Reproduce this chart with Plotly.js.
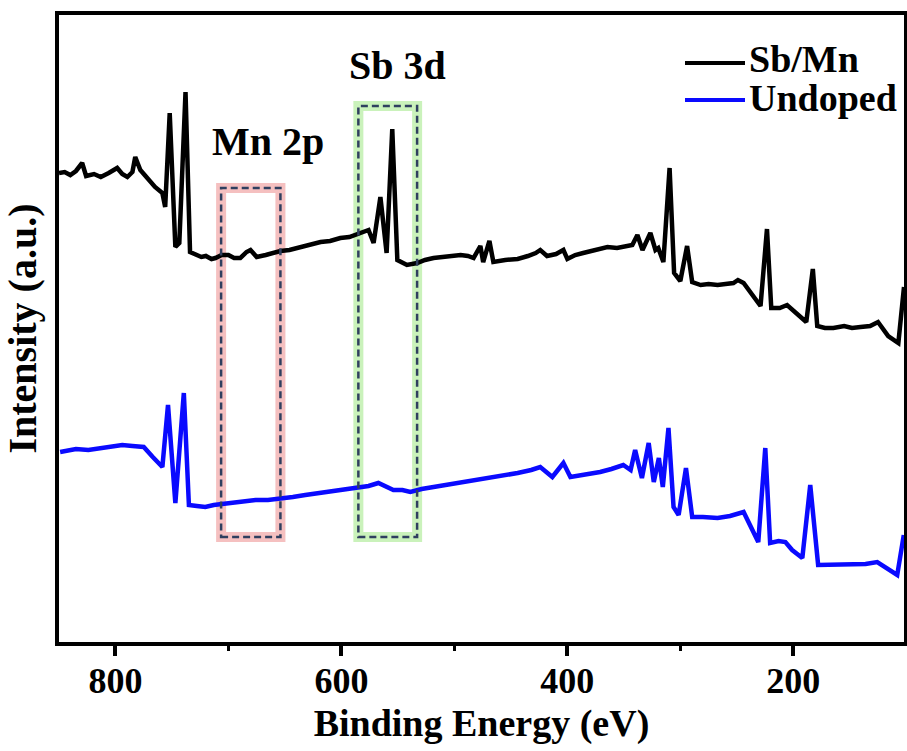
<!DOCTYPE html>
<html>
<head>
<meta charset="utf-8">
<script src="https://cdn.plot.ly/plotly-3.0.1.min.js"></script>
<style>html,body{margin:0;padding:0;background:#fff;}#chart{width:907px;height:751px;}</style>
</head>
<body>
<div id="chart"></div>
<script>
// Binding energy (eV) and intensity (a.u.)
const sbmnEnergy = [850,845,840,835,829.5,826,819,813,806,798.5,794,789.5,785,782.5,778,771,765,758.5,756,752,747,743.5,738,734,729,724,720,715,711.5,706,700,695,689.5,684,680.5,675,667,661,654,646,636,627,618.5,610,601,593,586,576,571.5,565.5,560,555,550.5,542,533,526,518.5,510,502,494.5,488,483,477,474.5,469,465.5,455,444,435,428,424,418,410,403.5,400,393,386,375,364.5,356,349,342.5,338,333.5,326.5,322,319.5,315,309.5,305.5,300,294,289.5,282,275,267,260,253,249,244,229,223.3,219.5,212,205.5,194,188.5,182.7,178.8,172,164.5,155,148,140.5,132,125,116,107,102];
const sbmnIntensity = [469,470,467,471,479,466,468,465,469,474,468,465,470,485,472,462,455,449,435,529,395,399,550,390,387,385,386,383,384,387,387,384,384,390,392,385,387,389,391,392,395,398,400,401,404,405,408,412,399,445,389,513,382,377,379,382,384,385,386,387,386,384,396,380,401,380,382,383,386,389,392,386,388,392,383,387,389,392,395,394,396,397,407,392,409,392,394,380,474,369,361,396,360,357,358,357,358,359,362,359,336,413,334,334,337,325,320,373,316,314,314,316,314,315,316,320,306,299,355];

const undopedEnergy = [849,835,824,809,794,785,775,767,758.5,753.5,747,739.5,735,728,720.5,713,705,690,676,665,654,643,632,620,607,596,586,576,567.3,560,554,546,539,529,518.5,503,488.5,467,444,432,424,413.3,403.5,397.3,385,371,361,350.5,344,340,334,328,323.5,319,315.5,310.5,306,301.5,295,289.5,280,267,256,244,231,224.8,220.5,213,207,201,192,185,178,165,150,136,125.7,108,102.2];
const undopedIntensity = [190,193,192,195,197,196,195,185,175,237,139,249,137,136,135,137,138,140,142,142,143,145,147,149,151,152,154,156,159,155,152,152,150,153,155,157,160,164,169,172,175,165,179,165,167,170,173,177,172,192,164,199,160,184,155,214,135,127,174,125,125,124,126,130,100,194,99,101,100,92,84,157,77,77,77,78,80,67,107];

const seriesNames = ['Sb/Mn', 'Undoped'];
const seriesColors = ['#000000', '#0a0aff'];

// Highlighted energy windows [high, low] and their labels
const boxLabels = ['Mn 2p', 'Sb 3d'];
const boxEnergy = [[706.5, 654], [585, 533]];
const boxIntensity = [[105, 454], [105, 536]];

const W = 907, H = 751, L = 59, R = 3, T = 15, B = 109;
const pw = W - L - R, ph = H - T - B;
const px = x => (x - L) / pw;
const py = y => (H - B - y) / ph;

const serif = 'Liberation Serif';

const traces = [
  {x: sbmnEnergy, y: sbmnIntensity, name: seriesNames[0], type: 'scatter', mode: 'lines',
   line: {color: seriesColors[0], width: 4.5}, showlegend: false},
  {x: undopedEnergy, y: undopedIntensity, name: seriesNames[1], type: 'scatter', mode: 'lines',
   line: {color: seriesColors[1], width: 4.5}, showlegend: false}
];

const glow = ['rgba(235,130,130,0.5)', 'rgba(150,230,120,0.5)'];
const shapes = [];
boxEnergy.forEach((e, i) => {
  shapes.push({type: 'rect', xref: 'x', yref: 'y', x0: e[0], x1: e[1], y0: boxIntensity[i][0], y1: boxIntensity[i][1],
    line: {color: glow[i], width: 10}, layer: 'below'});
  shapes.push({type: 'rect', xref: 'x', yref: 'y', x0: e[0], x1: e[1], y0: boxIntensity[i][0], y1: boxIntensity[i][1],
    line: {color: '#2f3f5f', width: 2.5, dash: '7px,4px'}, layer: 'above'});
});
// legend samples
shapes.push({type: 'line', xref: 'paper', yref: 'paper', x0: px(685), x1: px(745), y0: py(63), y1: py(63), line: {color: seriesColors[0], width: 4}});
shapes.push({type: 'line', xref: 'paper', yref: 'paper', x0: px(685), x1: px(745), y0: py(100), y1: py(100), line: {color: seriesColors[1], width: 4}});

const annotations = [
  {text: '<b>' + boxLabels[0] + '</b>', xref: 'paper', yref: 'paper', x: px(268), y: py(141), xanchor: 'center', yanchor: 'middle', showarrow: false, font: {family: serif, size: 40, color: '#000'}},
  {text: '<b>' + boxLabels[1] + '</b>', xref: 'paper', yref: 'paper', x: px(397), y: py(65), xanchor: 'center', yanchor: 'middle', showarrow: false, font: {family: serif, size: 40, color: '#000'}},
  {text: '<b>' + seriesNames[0] + '</b>', xref: 'paper', yref: 'paper', x: px(747), y: py(59), xanchor: 'left', yanchor: 'middle', showarrow: false, font: {family: serif, size: 38, color: '#000'}},
  {text: '<b>' + seriesNames[1] + '</b>', xref: 'paper', yref: 'paper', x: px(747), y: py(98), xanchor: 'left', yanchor: 'middle', showarrow: false, font: {family: serif, size: 38, color: '#000'}}
];

const layout = {
  width: W, height: H,
  margin: {l: L, r: R, t: T, b: B},
  paper_bgcolor: '#fff', plot_bgcolor: '#fff',
  showlegend: false,
  xaxis: {
    range: [850, 102], tickmode: 'linear', tick0: 0, dtick: 200,
    ticks: 'outside', ticklen: 10, tickwidth: 4, tickcolor: '#000',
    ticklabelstandoff: -6,
    minor: {dtick: 100, tick0: 0, ticks: 'outside', ticklen: 5, tickwidth: 3, tickcolor: '#000'},
    showline: true, linewidth: 4, linecolor: '#000', mirror: true,
    showgrid: false, zeroline: false,
    tickfont: {family: serif, size: 36, color: '#000', weight: 'bold'},
    title: {text: '<b>Binding Energy (eV)</b>', font: {family: serif, size: 38, color: '#000'}, standoff: 10}
  },
  yaxis: {
    range: [0, 627], showticklabels: false, ticks: '',
    showline: true, linewidth: 4, linecolor: '#000', mirror: true,
    showgrid: false, zeroline: false,
    title: {text: '<b>Intensity (a.u.)</b>', font: {family: serif, size: 40, color: '#000'}, standoff: 10}
  },
  shapes: shapes,
  annotations: annotations
};

Plotly.newPlot('chart', traces, layout, {displayModeBar: false, staticPlot: true});
</script>
</body>
</html>
